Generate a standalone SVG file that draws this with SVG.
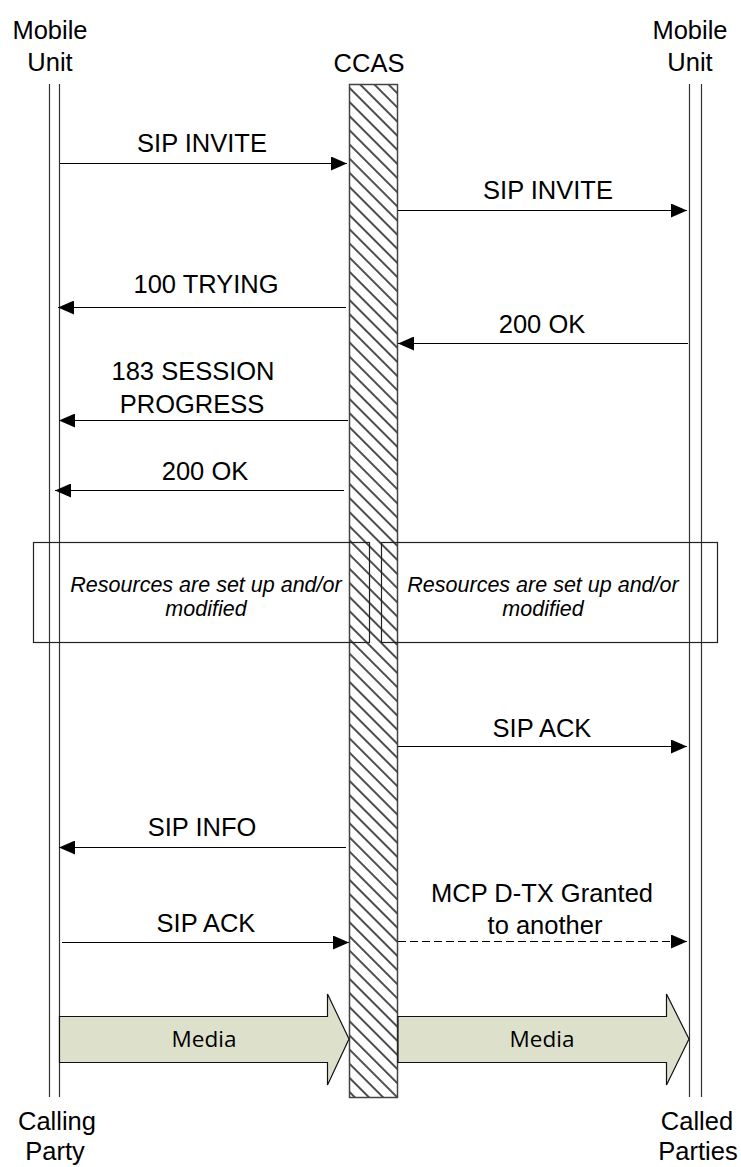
<svg xmlns="http://www.w3.org/2000/svg" width="741" height="1167" viewBox="0 0 741 1167">
  <style>
    text { font-family: "Liberation Sans", Arial, sans-serif; fill: #000; }
    .lbl { font-size: 25.5px; text-anchor: middle; }
    .note { font-size: 21.5px; font-style: italic; text-anchor: middle; }
    .media { font-family: "Open Sans", "Noto Sans", sans-serif; font-size: 22.5px; text-anchor: middle; }
    .life { stroke: #333; stroke-width: 1.2; fill: none; }
    .msg { stroke: #000; stroke-width: 1.2; fill: none; marker-end: url(#arrow); }
    .dash { stroke-dasharray: 8 4; }
    .box { fill: none; stroke: #222; stroke-width: 1.2; }
    .mediaArrow { fill: #dde1cc; stroke: #111; stroke-width: 1.2; }
  </style>
  <defs>
    <marker id="arrow" markerUnits="userSpaceOnUse" markerWidth="16" markerHeight="14" refX="16" refY="7" orient="auto">
      <path d="M0,0 L16,7 L0,14 z" fill="#000"/>
    </marker>
    <pattern id="hatch" patternUnits="userSpaceOnUse" width="10" height="10" patternTransform="rotate(-45)">
      <rect width="10" height="10" fill="#fff"/>
      <line x1="5" y1="0" x2="5" y2="10" stroke="#222" stroke-width="1.6"/>
    </pattern>
  </defs>

  <g id="lifeline-left">
    <text class="lbl" x="50" y="39">Mobile</text>
    <text class="lbl" x="50" y="71">Unit</text>
    <line class="life" x1="49.5" y1="84" x2="49.5" y2="1097"/>
    <line class="life" x1="59.5" y1="84" x2="59.5" y2="1097"/>
    <text class="lbl" x="57" y="1130">Calling</text>
    <text class="lbl" x="55" y="1160">Party</text>
  </g>

  <g id="lifeline-ccas">
    <text class="lbl" x="369" y="72">CCAS</text>
    <rect x="349.5" y="84.5" width="48" height="1013" fill="url(#hatch)" stroke="#444" stroke-width="1.5"/>
  </g>

  <g id="lifeline-right">
    <text class="lbl" x="690" y="39">Mobile</text>
    <text class="lbl" x="690" y="71">Unit</text>
    <line class="life" x1="689.5" y1="84" x2="689.5" y2="1097"/>
    <line class="life" x1="701.5" y1="84" x2="701.5" y2="1097"/>
    <text class="lbl" x="697" y="1130">Called</text>
    <text class="lbl" x="698" y="1160">Parties</text>
  </g>

  <g id="note-left">
    <rect class="box" x="33.5" y="542.5" width="336" height="100"/>
    <text class="note" x="206" y="592">Resources are set up and/or</text>
    <text class="note" x="206" y="616">modified</text>
  </g>

  <g id="note-right">
    <rect class="box" x="381.5" y="542.5" width="336" height="100"/>
    <text class="note" x="543" y="592">Resources are set up and/or</text>
    <text class="note" x="543" y="616">modified</text>
  </g>

  <g id="media-left">
    <polygon class="mediaArrow" points="59.5,1016.5 327.5,1016.5 327.5,994 349,1039 327.5,1085 327.5,1062.5 59.5,1062.5"/>
    <text class="media" x="204" y="1047">Media</text>
  </g>

  <g id="media-right">
    <polygon class="mediaArrow" points="398,1016.5 666.5,1016.5 666.5,994 689,1039 666.5,1085 666.5,1062.5 398,1062.5"/>
    <text class="media" x="542" y="1047">Media</text>
  </g>

  <g id="connectors">
    <line class="msg" x1="60" y1="163.5" x2="347" y2="163.5"/>
    <text class="lbl" x="202" y="152">SIP INVITE</text>

    <line class="msg" x1="398" y1="210.5" x2="687" y2="210.5"/>
    <text class="lbl" x="548" y="199">SIP INVITE</text>

    <line class="msg" x1="346" y1="307.5" x2="58" y2="307.5"/>
    <text class="lbl" x="206" y="293">100 TRYING</text>

    <line class="msg" x1="688" y1="343.5" x2="398" y2="343.5"/>
    <text class="lbl" x="542" y="333">200 OK</text>

    <line class="msg" x1="348" y1="420.5" x2="59" y2="420.5"/>
    <text class="lbl" x="193" y="380">183 SESSION</text>
    <text class="lbl" x="192" y="413">PROGRESS</text>

    <line class="msg" x1="344" y1="490.5" x2="55" y2="490.5"/>
    <text class="lbl" x="205" y="480">200 OK</text>

    <line class="msg" x1="398" y1="746.5" x2="687" y2="746.5"/>
    <text class="lbl" x="542" y="737">SIP ACK</text>

    <line class="msg" x1="346" y1="847.5" x2="59" y2="847.5"/>
    <text class="lbl" x="202" y="836">SIP INFO</text>

    <line class="msg" x1="62" y1="942.5" x2="349" y2="942.5"/>
    <text class="lbl" x="206" y="932">SIP ACK</text>

    <line class="msg dash" x1="398" y1="941.5" x2="687" y2="941.5"/>
    <text class="lbl" x="542" y="902">MCP D-TX Granted</text>
    <text class="lbl" x="545" y="934">to another</text>
  </g>
</svg>
